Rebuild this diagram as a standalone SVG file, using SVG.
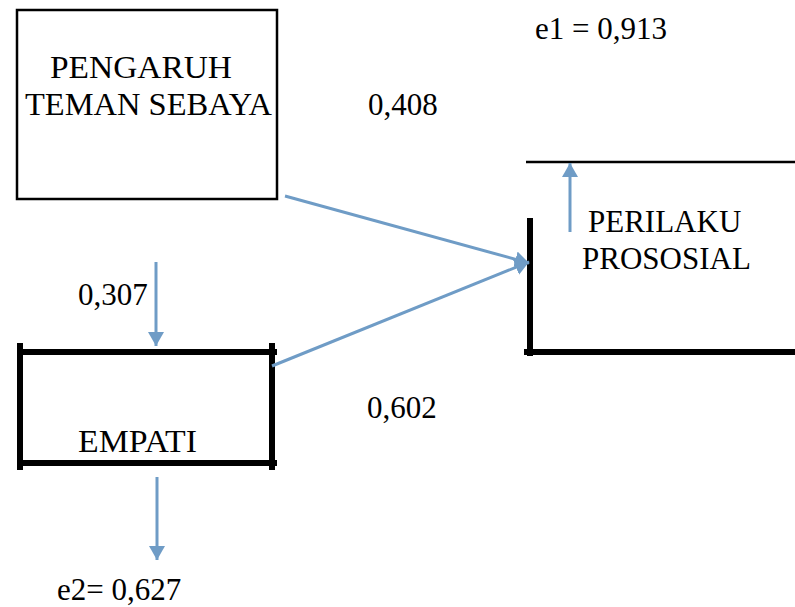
<svg xmlns="http://www.w3.org/2000/svg" width="795" height="607" viewBox="0 0 795 607">
<defs>
<style>
text{font-family:"Liberation Serif","Times New Roman",serif;font-size:31px;fill:#000}
.thin{stroke:#000;stroke-width:2.5;fill:none}
.thick{stroke:#000;stroke-width:6;fill:none}
.conn{stroke:#6f9cc6;stroke-width:3;fill:none}
</style>
<marker id="ah" markerUnits="userSpaceOnUse" markerWidth="16" markerHeight="18" refX="14" refY="8" orient="auto">
<path d="M0,0 L14,8 L0,16 Z" fill="#6f9cc6"/>
</marker>
</defs>
<rect width="795" height="607" fill="#fff"/>
<g id="node-pengaruh">
<rect class="thin" x="17" y="10" width="260" height="189"/>
<text x="50" y="78" textLength="182" lengthAdjust="spacingAndGlyphs">PENGARUH</text>
<text x="25" y="115" textLength="247" lengthAdjust="spacingAndGlyphs">TEMAN SEBAYA</text>
</g>
<g id="node-perilaku">
<line class="thin" x1="526" y1="162" x2="795" y2="162"/>
<line class="thick" x1="530" y1="218" x2="530" y2="356"/>
<line class="thick" x1="524" y1="352" x2="795" y2="352"/>
<text x="588" y="232">PERILAKU</text>
<text x="582" y="269">PROSOSIAL</text>
</g>
<g id="node-empati">
<line class="thick" x1="17" y1="352" x2="277" y2="352"/>
<line class="thick" x1="17" y1="463" x2="277" y2="463"/>
<line class="thick" x1="20" y1="343" x2="20" y2="470"/>
<line class="thick" x1="272" y1="343" x2="272" y2="470"/>
<text x="78" y="452" textLength="119" lengthAdjust="spacingAndGlyphs">EMPATI</text>
</g>
<g id="connectors">
<line class="conn" x1="285" y1="196" x2="529" y2="263" marker-end="url(#ah)"/>
<line class="conn" x1="272" y1="366" x2="529" y2="262" marker-end="url(#ah)"/>
<line class="conn" x1="156" y1="262" x2="156" y2="346" marker-end="url(#ah)"/>
<line class="conn" x1="157" y1="477" x2="157" y2="560" marker-end="url(#ah)"/>
<line class="conn" x1="570" y1="232" x2="570" y2="163" marker-end="url(#ah)"/>
</g>
<g id="labels">
<text x="535" y="39">e1 = 0,913</text>
<text x="368" y="115">0,408</text>
<text x="78" y="305">0,307</text>
<text x="367" y="418">0,602</text>
<text x="57" y="600">e2= 0,627</text>
</g>
</svg>
